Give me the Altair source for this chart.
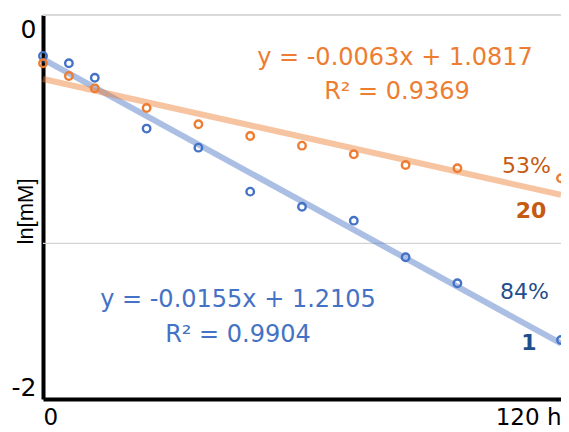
import altair as alt
import pandas as pd

# ---- data ----
hours = [0, 6, 12, 24, 36, 48, 60, 72, 84, 96, 120]
series_1 = [1.219, 1.171, 1.077, 0.746, 0.622, 0.336, 0.238, 0.147, -0.091, -0.260, -0.629]
series_20 = [1.171, 1.088, 1.008, 0.880, 0.774, 0.698, 0.635, 0.579, 0.509, 0.488, 0.423]
series_names = ["1", "20"]
series_colors = ["#4472c4", "#ed7d31"]

y_tick_values = [1.391, -0.941]
y_tick_labels = ["0", "-2"]
x_tick_values = [0, 120]
x_tick_labels = ["0", "120 h"]
grid_values = [0.0]

eq_20 = ["y = -0.0063x + 1.0817", "R² = 0.9369"]
eq_1 = ["y = -0.0155x + 1.2105", "R² = 0.9904"]
pct_20, lab_20 = "53%", "20"
pct_1, lab_1 = "84%", "1"

W, H = 518, 384
FONT = "DejaVu Sans"

rows = []
for h, a, b in zip(hours, series_1, series_20):
    rows.append({"hours": h, "value": a, "series": "1"})
    rows.append({"hours": h, "value": b, "series": "20"})
df = pd.DataFrame(rows)

xs = alt.Scale(domain=[0, 120], nice=False, zero=False)
ys = alt.Scale(domain=[-1.013, 1.485], nice=False, zero=False)
cs = alt.Scale(domain=series_names, range=series_colors)

y_expr = "datum.value > 0 ? '%s' : '%s'" % (y_tick_labels[0], y_tick_labels[1])
x_expr = "datum.value == 0 ? '%s' : '%s'" % (x_tick_labels[0], x_tick_labels[1])

x_axis = alt.Axis(values=x_tick_values, labelExpr=x_expr, labelFlush=True, ticks=False,
                  grid=False, domainColor="black", domainWidth=4, labelFont=FONT,
                  labelFontSize=23, labelColor="black", labelPadding=7, title=None)
y_axis = alt.Axis(values=y_tick_values, labelExpr=y_expr, ticks=False, grid=False,
                  domainColor="black", domainWidth=4, labelFont=FONT, labelFontSize=25,
                  labelColor="black", labelPadding=7, title="ln[mM]",
                  titleFont="Liberation Sans", titleFontSize=22, titleFontWeight="normal",
                  titleColor="black", titleAngle=270, titleX=-18, titleY=196,
                  titleAlign="center", titleBaseline="middle")

base = alt.Chart(df)

grid = alt.Chart(pd.DataFrame({"value": grid_values})).mark_rule(
    color="#d4d4d4", strokeWidth=1.2).encode(y=alt.Y("value:Q", scale=ys, axis=y_axis))

top_line = alt.Chart(pd.DataFrame({"g": [0]})).mark_rule(
    color="#d9d9d9", strokeWidth=2).encode(
    x=alt.value(0), x2=alt.value(W), y=alt.value(0))

trend = base.transform_regression(
    "hours", "value", groupby=["series"], extent=[0, 120]
).mark_line(strokeWidth=6, opacity=0.45).encode(
    x=alt.X("hours:Q", scale=xs, axis=x_axis),
    y=alt.Y("value:Q", scale=ys, axis=y_axis),
    color=alt.Color("series:N", scale=cs, legend=None),
    detail="series:N",
)

points = base.mark_point(filled=False, size=56, strokeWidth=2.4, opacity=1, clip=False).encode(
    x=alt.X("hours:Q", scale=xs, axis=x_axis),
    y=alt.Y("value:Q", scale=ys, axis=y_axis),
    color=alt.Color("series:N", scale=cs, legend=None),
)


def label(text, x, y, color, size, weight="normal", align="center"):
    return alt.Chart(pd.DataFrame({"t": [text]})).mark_text(
        font=FONT, fontSize=size, fontWeight=weight, color=color,
        align=align, baseline="middle").encode(
        x=alt.value(x), y=alt.value(y), text="t:N")


texts = [
    label(eq_20[0], 352, 43, "#ed7d31", 24),
    label(eq_20[1], 354, 77, "#ed7d31", 24),
    label(eq_1[0], 195, 285, "#4472c4", 24),
    label(eq_1[1], 195, 320, "#4472c4", 24),
    label(pct_20, 459, 151, "#c55a11", 22, align="left"),
    label(lab_20, 488, 196, "#c55a11", 22, weight="bold"),
    label(pct_1, 457, 277, "#1f4e8c", 22, align="left"),
    label(lab_1, 486, 328, "#1f4e8c", 22, weight="bold"),
]

chart = alt.layer(grid, top_line, trend, points, *texts).properties(
    width=W, height=H,
    padding={"left": 35, "top": 7, "right": 0, "bottom": 33},
    autosize=alt.AutoSizeParams(type="none"),
    background="white",
).configure_view(stroke=None)

chart.save("out.html", embed_options={"renderer": "svg", "actions": False})
